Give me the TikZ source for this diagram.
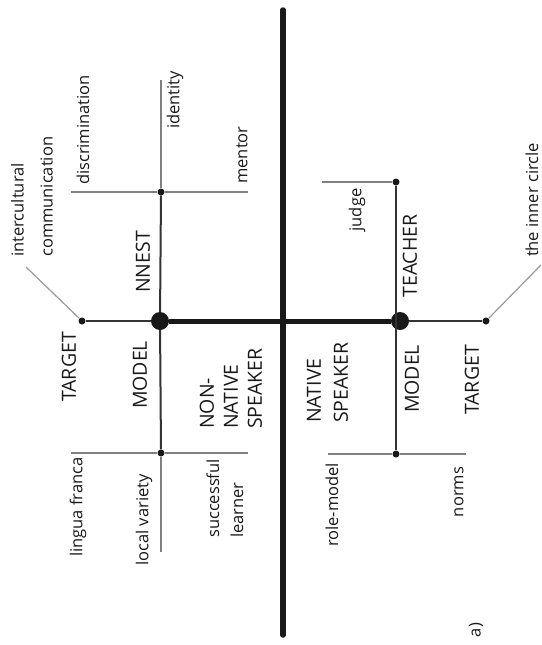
\documentclass[tikz,border=0pt]{standalone}
\usepackage{fontspec}
\setmainfont{Open Sans}
\begin{document}
\begin{tikzpicture}[x=1pt,y=-1pt,
  mainline/.style={line width=5.5pt,draw=black!90,line cap=round},
  thick line/.style={line width=5pt,draw=black!90},
  darkline/.style={line width=2pt,draw=black!80},
  grayline/.style={line width=1.3pt,draw=black!50},
  diagline/.style={line width=1.2pt,draw=black!40},
  bigdot/.style={circle,fill=black!90,minimum size=18pt,inner sep=0pt},
  smalldot/.style={circle,fill=black!90,minimum size=7pt,inner sep=0pt},
  caps/.style={rotate=90,inner sep=0pt,font=\fontsize{19.5}{25}\selectfont,text=black!90},
  small/.style={rotate=90,inner sep=0pt,font=\fontsize{16.5}{24}\selectfont,text=black!90},
]
\useasboundingbox (0,0) rectangle (541,645);
% main axes
\coordinate (top) at (283,10);
\coordinate (bot) at (283,635);
\draw[mainline] (top) -- (bot);
\node[bigdot] (L) at (160,321) {};
\node[bigdot] (R) at (400,321) {};
\draw[thick line] (L) -- (R);
% small dots
\node[smalldot] (Lt) at (82,321) {};
\node[smalldot] (Lu) at (161,192) {};
\node[smalldot] (Ld) at (161,453) {};
\node[smalldot] (Rt) at (486,321) {};
\node[smalldot] (Ru) at (396,182) {};
\node[smalldot] (Rd) at (396,454) {};
\coordinate (Ltd) at (26,267);
\coordinate (Rtd) at (541,265);
\coordinate (Luu) at (161,80);
\coordinate (Lul) at (71,192);
\coordinate (Lur) at (248,192);
\coordinate (Ldd) at (161,552);
\coordinate (Ldl) at (71,453);
\coordinate (Ldr) at (248,453);
\coordinate (Rul) at (322,182);
\coordinate (Rdl) at (328,454);
\coordinate (Rdr) at (466,454);
\coordinate (Rc) at (396,321);
% left branches
\draw[darkline] (L) -- (Lt);
\draw[diagline] (Lt) -- (Ltd);
\draw[darkline] (L) -- (Lu);
\draw[grayline] (Lu) -- (Luu);
\draw[grayline] (Lul) -- (Lu);
\draw[grayline] (Lu) -- (Lur);
\draw[darkline] (L) -- (Ld);
\draw[grayline] (Ld) -- (Ldd);
\draw[grayline] (Ldl) -- (Ld);
\draw[grayline] (Ld) -- (Ldr);
% right branches
\draw[darkline] (R) -- (Rt);
\draw[diagline] (Rt) -- (Rtd);
\draw[darkline] (Rc) -- (Ru);
\draw[grayline] (Rul) -- (Ru);
\draw[darkline] (Rc) -- (Rd);
\draw[grayline] (Rdl) -- (Rd);
\draw[grayline] (Rd) -- (Rdr);
% labels
\node[small,anchor=west,align=left,font=\fontsize{16.5}{29}\selectfont] (ic) at (32,257) {intercultural\\communication};
\node[small] (disc) at (83,130) {discrimination};
\node[small] (iden) at (175,100) {identity};
\node[small] (ment) at (242,155) {mentor};
\node[caps] (nnest) at (143,262) {NNEST};
\node[caps] (tgl) at (69,367) {TARGET};
\node[caps] (mdl) at (140,375) {MODEL};
\node[caps,anchor=west,align=left,font=\fontsize{19.5}{24}\selectfont] (nns) at (231,429) {NON-\\NATIVE\\SPEAKER};
\node[small] (lf) at (78,507) {lingua franca};
\node[small] (lv) at (144,520) {local variety};
\node[small,anchor=west,align=left,font=\fontsize{16.5}{24}\selectfont] (sl) at (225,538) {successful\\learner};
\node[small] (judge) at (357,210) {judge};
\node[caps] (teach) at (410,256) {TEACHER};
\node[small] (inner) at (532,200) {the inner circle};
\node[caps,anchor=west,align=left,font=\fontsize{19.5}{27}\selectfont] (ns) at (327.5,423) {NATIVE\\SPEAKER};
\node[caps] (mdr) at (412,379) {MODEL};
\node[caps] (tgr) at (472,380) {TARGET};
\node[small] (rm) at (332,505) {role-model};
\node[small] (norms) at (459,492) {norms};
\node[small] (a) at (476,630) {a)};
\end{tikzpicture}
\end{document}
